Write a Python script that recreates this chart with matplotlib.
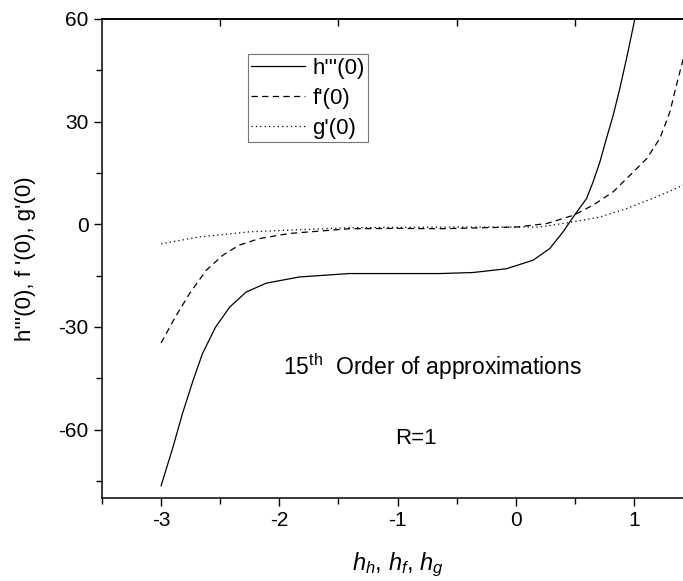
import numpy as np
import matplotlib
matplotlib.use('Agg')
import matplotlib.pyplot as plt
from matplotlib.ticker import MultipleLocator, FixedLocator, NullLocator

plt.rcParams['font.family'] = ['Liberation Sans', 'DejaVu Sans']
plt.rcParams['axes.unicode_minus'] = False
plt.rcParams['mathtext.fontset'] = 'custom'
plt.rcParams['mathtext.rm'] = 'Liberation Sans'
plt.rcParams['mathtext.it'] = 'Liberation Sans:italic'

# values
h_x = [-3.0, -2.9, -2.82, -2.73, -2.65, -2.54, -2.42, -2.28, -2.11, -1.83, -1.41,
       -1.0, -0.644, -0.362, -0.079, 0.147, 0.288, 0.401, 0.486, 0.599, 0.655,
       0.712, 0.768, 0.825, 0.881, 0.938, 1.008]
h_y = [-76.4, -65.2, -55.4, -45.7, -37.8, -30.1, -24.2, -19.8, -17.2, -15.4, -14.4,
       -14.4, -14.4, -14.1, -13.0, -10.5, -7.1, -2.2, 2.1, 7.5, 12.4,
       18.2, 25.1, 31.9, 39.7, 48.5, 60.0]

f_x = [-3.0, -2.88, -2.76, -2.62, -2.48, -2.34, -2.17, -1.92, -1.41, -1.0, -0.644,
       0.006, 0.26, 0.486, 0.655, 0.825, 0.966, 1.108, 1.22, 1.305, 1.36, 1.415, 1.45]
f_y = [-34.7, -27.1, -20.3, -13.5, -9.1, -6.1, -4.2, -2.7, -1.3, -1.2, -1.3,
       -0.8, 0.2, 2.6, 5.6, 9.5, 14.3, 19.2, 25.1, 32.9, 40.7, 48.0, 53.0]

g_x = [-3.0, -2.68, -2.25, -1.83, -1.41, -1.0, -0.5, 0.203, 0.486, 0.712, 0.938,
       1.19, 1.415, 1.45]
g_y = [-5.7, -3.7, -2.2, -1.6, -1.0, -0.9, -0.8, -0.8, 0.7, 2.1, 4.6,
       8.0, 11.4, 12.2]

fig = plt.figure(figsize=(6.83, 5.81), dpi=100)
ax = fig.add_axes([102/683, 1 - 498/581, 591/683, 479/581])

ax.plot(h_x, h_y, color='black', lw=0.9, label="h'''(0)")
ax.plot(f_x, f_y, color='black', lw=0.9, ls=(0, (5, 3.5)), label="f'(0)")
ax.plot(g_x, g_y, color='black', lw=0.9, ls=(0, (1, 2.5)), label="g'(0)")

ax.set_xlim(-3.5, 1.5)
ax.set_ylim(-80, 60)
ax.xaxis.set_major_locator(MultipleLocator(1))
ax.xaxis.set_minor_locator(MultipleLocator(0.5))
ax.yaxis.set_major_locator(MultipleLocator(30))
ax.yaxis.set_minor_locator(MultipleLocator(15))
ax.tick_params(which='major', direction='out', length=6, width=1, labelsize=15)
ax.tick_params(which='minor', direction='out', length=4.5, width=1)
for s in ax.spines.values():
    s.set_linewidth(1.1)

# ticks on the top edge point inwards
top = ax.secondary_xaxis('top')
top.xaxis.set_major_locator(FixedLocator([-2.5, -1.5, -0.5, 0.5]))
top.xaxis.set_minor_locator(NullLocator())
top.tick_params(which='major', direction='in', length=5, width=1, labeltop=False)
top.spines['top'].set_linewidth(1.1)

ax.set_ylabel("h'''(0), f '(0), g'(0)", fontsize=16, labelpad=16)
ax.set_xlabel(r"$h_h$, $h_f$, $h_g$", fontsize=17, labelpad=15)

ax.text(-0.70, -41.5, r"15$^{\mathregular{th}}$  Order of approximations", fontsize=16.5,
        ha='center', va='center')
ax.text(-0.84, -62.5, "R=1", fontsize=16, ha='center', va='center')

leg = ax.legend(loc='upper left', bbox_to_anchor=(0.247, 0.926), fontsize=16,
                frameon=True, fancybox=False, edgecolor='#555555', handlelength=2.4,
                borderpad=0.15, labelspacing=0.4, handletextpad=0.35, borderaxespad=0)
leg.get_frame().set_linewidth(0.8)

fig.savefig('out.png', dpi=100)
